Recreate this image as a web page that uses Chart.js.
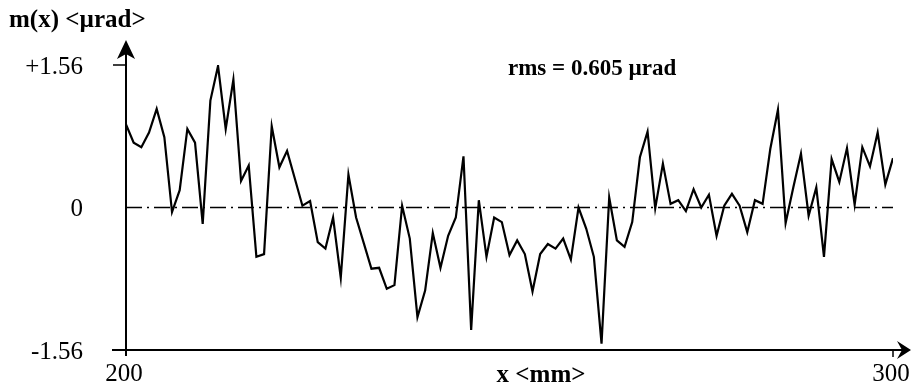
<!DOCTYPE html>
<html>
<head>
<meta charset="utf-8">
<script src="https://cdn.jsdelivr.net/npm/chart.js@4"></script>
<style>
  html, body { margin: 0; padding: 0; background: #fff; }
  #wrap { width: 911px; height: 389px; }
</style>
</head>
<body>
<div id="wrap"><canvas id="myChart" width="911" height="389"></canvas></div>
<script>
// measurement positions along x (mm)
const positions = [
  200, 201, 202, 203, 204, 205, 206, 207, 208, 209,
  210, 211, 212, 213, 214, 215, 216, 217, 218, 219,
  220, 221, 222, 223, 224, 225, 226, 227, 228, 229,
  230, 231, 232, 233, 234, 235, 236, 237, 238, 239,
  240, 241, 242, 243, 244, 245, 246, 247, 248, 249,
  250, 251, 252, 253, 254, 255, 256, 257, 258, 259,
  260, 261, 262, 263, 264, 265, 266, 267, 268, 269,
  270, 271, 272, 273, 274, 275, 276, 277, 278, 279,
  280, 281, 282, 283, 284, 285, 286, 287, 288, 289,
  290, 291, 292, 293, 294, 295, 296, 297, 298, 299,
  300
];

// slope error m(x) in µrad
const slope = [
  0.91, 0.71, 0.66, 0.82, 1.08, 0.77, -0.05, 0.19, 0.86, 0.71,
  -0.18, 1.17, 1.55, 0.86, 1.40, 0.29, 0.46, -0.54, -0.51, 0.89,
  0.44, 0.62, 0.32, 0.02, 0.07, -0.38, -0.45, -0.11, -0.77, 0.36,
  -0.11, -0.39, -0.67, -0.66, -0.89, -0.85, 0.02, -0.34, -1.20, -0.91,
  -0.28, -0.66, -0.31, -0.11, 0.56, -1.34, 0.08, -0.54, -0.11, -0.16,
  -0.52, -0.36, -0.51, -0.92, -0.51, -0.40, -0.45, -0.34, -0.57, 0.00,
  -0.23, -0.54, -1.49, 0.11, -0.36, -0.43, -0.16, 0.55, 0.83, -0.01,
  0.48, 0.04, 0.08, -0.04, 0.20, 0.00, 0.14, -0.31, 0.02, 0.15,
  0.02, -0.27, 0.08, 0.04, 0.64, 1.07, -0.17, 0.22, 0.59, -0.09,
  0.22, -0.54, 0.53, 0.28, 0.65, 0.03, 0.66, 0.45, 0.82, 0.25,
  0.54
];

const xTicks = [200, 300];
const yTicks = [1.56, 0, -1.56];
const yTickLabels = ["+1.56", "0", "-1.56"];
const zeroLine = [{ x: 200, y: 0 }, { x: 300, y: 0 }];

const points = positions.map((p, i) => ({ x: p, y: slope[i] }));

const serif = "'Liberation Serif', 'DejaVu Serif', serif";

// draws the axes with arrows, ticks and all labels
const axesPlugin = {
  id: "axesPlugin",
  afterDatasetsDraw(chart) {
    const ctx = chart.ctx;
    const xs = chart.scales.x;
    const ys = chart.scales.y;
    const x0 = xs.getPixelForValue(200);
    const x1 = xs.getPixelForValue(300);
    const yb = ys.getPixelForValue(-1.56);
    const yt = ys.getPixelForValue(1.56);

    ctx.save();
    ctx.strokeStyle = "#000";
    ctx.fillStyle = "#000";
    ctx.lineWidth = 2;

    // y axis
    ctx.beginPath();
    ctx.moveTo(x0, yb + 6);
    ctx.lineTo(x0, yt - 20);
    ctx.stroke();
    // x axis
    ctx.beginPath();
    ctx.moveTo(x0 - 14, yb);
    ctx.lineTo(x1 + 10, yb);
    ctx.stroke();

    // arrow heads
    ctx.beginPath();
    ctx.moveTo(x0, yt - 25);
    ctx.lineTo(x0 + 9, yt - 6);
    ctx.lineTo(x0, yt - 11);
    ctx.lineTo(x0 - 9, yt - 6);
    ctx.closePath();
    ctx.fill();

    ctx.beginPath();
    ctx.moveTo(x1 + 18, yb);
    ctx.lineTo(x1 + 4, yb - 9);
    ctx.lineTo(x1 + 9, yb);
    ctx.lineTo(x1 + 4, yb + 9);
    ctx.closePath();
    ctx.fill();

    // small tick marks
    ctx.lineWidth = 1.5;
    ctx.beginPath();
    ctx.moveTo(x0 - 13, yt);
    ctx.lineTo(x0, yt);
    ctx.moveTo(x1, yb);
    ctx.lineTo(x1, yb + 7);
    ctx.stroke();

    // y tick labels
    ctx.font = "25px " + serif;
    ctx.textAlign = "right";
    ctx.textBaseline = "middle";
    yTicks.forEach((v, i) => {
      ctx.fillText(yTickLabels[i], x0 - 43, ys.getPixelForValue(v) + 2);
    });

    // x tick labels
    ctx.textAlign = "center";
    ctx.textBaseline = "top";
    xTicks.forEach((v) => {
      ctx.fillText(String(v), xs.getPixelForValue(v) - 2, yb + 12);
    });

    // axis titles
    ctx.font = "bold 25px " + serif;
    ctx.fillText("x <mm>", 541, yb + 13);
    ctx.textAlign = "left";
    ctx.textBaseline = "alphabetic";
    ctx.font = "bold 25px " + serif;
    ctx.fillText("m(x) <\u00b5rad>", 9, 27);

    // rms annotation
    ctx.font = "bold 23px " + serif;
    ctx.fillText("rms = 0.605 \u00b5rad", 508, 75);
    ctx.restore();
  }
};

const myChart = new Chart("myChart", {
  type: "line",
  data: {
    datasets: [
      {
        label: "zero",
        data: zeroLine,
        borderColor: "#000",
        borderWidth: 1.5,
        borderDash: [16, 5, 2, 5],
        pointRadius: 0,
      },
      {
        label: "m(x)",
        data: points,
        borderColor: "#000",
        borderWidth: 2.2,
        pointRadius: 0,
        tension: 0,
      },
    ],
  },
  options: {
    responsive: false,
    animation: false,
    layout: { padding: { left: 126, right: 18, top: 65, bottom: 39 } },
    plugins: { legend: { display: false }, tooltip: { enabled: false } },
    scales: {
      x: { type: "linear", min: 200, max: 300, display: false },
      y: { type: "linear", min: -1.56, max: 1.56, display: false },
    },
  },
  plugins: [axesPlugin],
});
</script>
</body>
</html>
